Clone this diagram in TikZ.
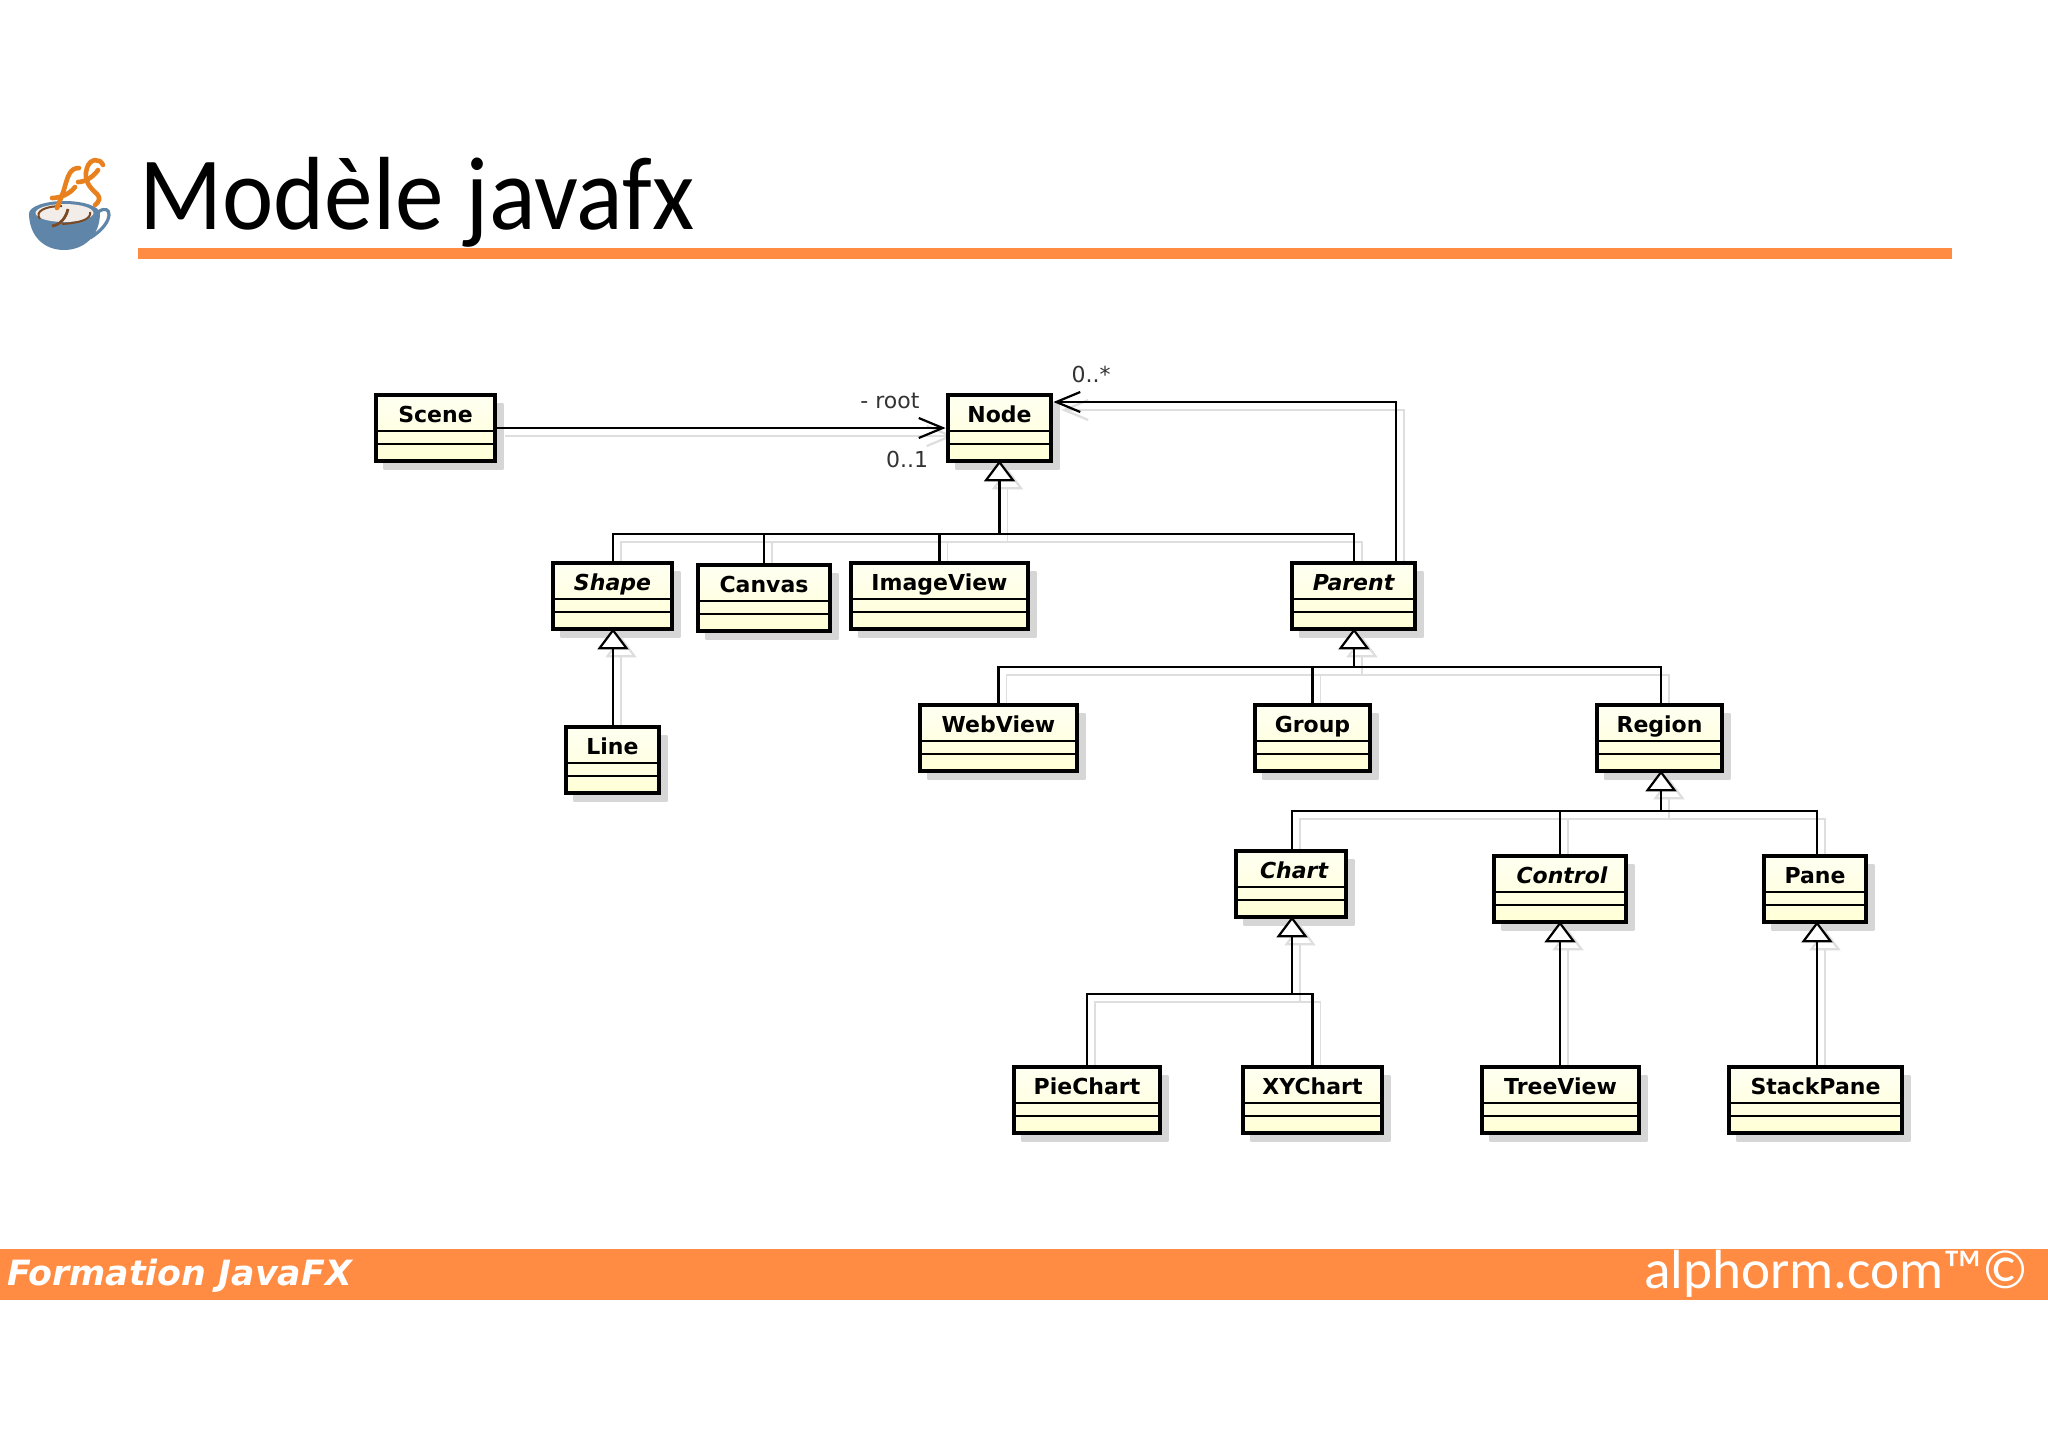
\documentclass[tikz,border=0pt]{standalone}
\usepackage{fontspec}
\setmainfont{DejaVu Sans}
\newfontfamily\titlefont[FakeStretch=0.935]{Carlito}
\newfontfamily\brandfont{Carlito}
\usetikzlibrary{arrows.meta,backgrounds,shadows}
\definecolor{classtop}{HTML}{FFFFF2}
\definecolor{classbottom}{HTML}{FFFFD6}
\definecolor{shadowgrey}{HTML}{D6D6D6}
\definecolor{ghostgrey}{HTML}{DEDEDE}
\definecolor{alphormorange}{HTML}{FF8C42}
\definecolor{cupblue}{HTML}{5F86A9}
\definecolor{flameorange}{HTML}{E8801E}
\definecolor{coffeebrown}{HTML}{7A4A24}
\tikzset{
    umlclass/.style={draw, line width=2pt, top color=classtop, bottom color=classbottom, anchor=north, inner sep=0pt,
        font=\fontsize{11}{12}\selectfont\bfseries, text height=13.6pt, text depth=19.6pt,
        drop shadow={shadow xshift=4pt, shadow yshift=-4pt, opacity=1, top color=shadowgrey, bottom color=shadowgrey},
        path picture={
            \draw[line width=0.9pt] ([yshift=-18pt]path picture bounding box.north west) -- ([yshift=-18pt]path picture bounding box.north east);
            \draw[line width=0.9pt] ([yshift=-24.5pt]path picture bounding box.north west) -- ([yshift=-24.5pt]path picture bounding box.north east);
        }},
    solidlink/.style={draw=black, line width=1.15pt},
    ghostlink/.style={draw=ghostgrey, line width=0.8pt, transform canvas={shift={(4pt,-4pt)}}},
    inherit/.style={-{Triangle[open, fill=white, length=10.5pt, width=15.5pt, line width=1.1pt]}, shorten >=-1.5pt},
    assoc/.style={-{Straight Barb[length=12pt, width=10pt, line width=1.1pt]}},
    rolelabel/.style={font=\fontsize{11}{12}\selectfont, inner sep=0pt, text=black!80},
    flame/.style={flameorange, line width=2.3pt, line cap=round}
}
\newcommand{\umllinks}[1]{
    \draw[#1, assoc] (scene.east |- assocy) -- (node.west |- assocy);
    \draw[#1, assoc] (parent.north -| backx) |- (node.east |- backy);
    \draw[#1] (shape.north -| shapex) |- (bus1) -| (parent.north -| parentx);
    \draw[#1] (canvas.north) -- (canvas.north |- bus1);
    \draw[#1] (imageview.north) -- (imageview.north |- bus1);
    \draw[#1, inherit] (bus1) -- (node.south);
    \draw[#1, inherit] (line.north -| shapex) -- (shape.south -| shapex);
    \draw[#1] (webview.north) |- (bus2) -| (region.north -| regionx);
    \draw[#1] (group.north) -- (group.north |- bus2);
    \draw[#1, inherit] (bus2) -- (parent.south -| parentx);
    \draw[#1] (chart.north -| chartx) |- (bus3) -| (pane.north -| panex);
    \draw[#1] (control.north) -- (control.north |- bus3);
    \draw[#1, inherit] (bus3) -- (region.south -| regionx);
    \draw[#1] (piechart.north) |- (bus4) -| (xychart.north);
    \draw[#1, inherit] (bus4) -- (chart.south -| chartx);
    \draw[#1, inherit] (treeview.north -| control.south) -- (control.south);
    \draw[#1, inherit] (stackpane.north -| panex) -- (pane.south -| panex);
}
\begin{document}
\begin{tikzpicture}[x=0.5pt,y=-0.5pt]
    \useasboundingbox (0,0) rectangle (2048,1447);
    % title and footer
    \fill[alphormorange] (138,248) rectangle (1952,259);
    \node[anchor=base west, inner sep=0pt, font=\titlefont\fontsize{52}{60}\selectfont] (title) at (139,229) {Modèle javafx};
    \fill[alphormorange] (0,1249) rectangle (2048,1300);
    \node[anchor=base west, inner sep=0pt, text=white, font=\fontsize{17.4}{18}\selectfont\bfseries\itshape] (formation) at (7,1285) {Formation JavaFX};
    \node[anchor=base east, inner sep=0pt, text=white, font=\brandfont\fontsize{27.6}{30}\selectfont] (brand) at (2029,1288) {alphorm.com™©};
    % logo
    \draw[cupblue, line width=1.6pt] (98,212) .. controls (112,202) and (116,222) .. (90,238);
    \fill[cupblue] (29,213) .. controls (29,236) and (44,250) .. (64,250) .. controls (84,250) and (100,236) .. (100,213) -- cycle;
    \fill[cupblue] (64.5,213.5) ellipse (35.5 and 12.5);
    \fill[white!90!coffeebrown] (64.5,213) ellipse (29 and 9);
    \draw[coffeebrown, line width=1pt] (40,219) .. controls (34,211) and (46,206) .. (62,206);
    \draw[coffeebrown, line width=1pt] (90,212) .. controls (92,219) and (80,223) .. (62,224);
    \draw[coffeebrown, line width=1.4pt] (68,209) .. controls (66,218) and (60,225) .. (52,226);
    \draw[flame] (79,168) .. controls (70,168) and (68,176) .. (65,186) .. controls (63,194) and (60,200) .. (57,208);
    \draw[flame] (52,198) .. controls (60,198) and (70,194) .. (75,187);
    \draw[flame] (103,165) .. controls (100,158) and (90,158) .. (87,168) .. controls (83,180) and (90,188) .. (97,194) .. controls (101,198) and (99,202) .. (95,205);
    \draw[flame] (78,182) .. controls (86,182) and (94,176) .. (98,170);
    % classes
    \foreach \name/\x/\y/\w/\txt in {
        scene/435.5/393/121/Scene, node/999.5/393/105/Node,
        shape/612.5/561/121/\itshape Shape, canvas/764/563/134/Canvas, imageview/939.5/561/179/ImageView, parent/1353.5/561/125/\itshape Parent,
        line/612.5/725/95/Line, webview/998.5/703/159/WebView, group/1312.5/703/117/Group, region/1659.5/703/127/Region,
        chart/1291/849/112/\itshape\hspace{3pt}Chart, control/1560/854/134/\itshape\hspace{2pt}Control, pane/1815/854/104/Pane,
        piechart/1087/1065/148/PieChart, xychart/1312.5/1065/141/XYChart, treeview/1560.5/1065/159/TreeView, stackpane/1815.5/1065/175/StackPane}
    {
        \node[umlclass, minimum width=\w*0.5pt-0.6pt] (\name) at (\x,\y) {\txt};
    }
    % connector rails
    \coordinate (assocy) at (0,428);
    \coordinate (backy) at (0,402);
    \coordinate (backx) at (1396,0);
    \coordinate (shapex) at (613,0);
    \coordinate (parentx) at (1354,0);
    \coordinate (regionx) at (1661,0);
    \coordinate (chartx) at (1292,0);
    \coordinate (panex) at (1817,0);
    \coordinate (bus1) at (999.5,534);
    \coordinate (bus2) at (1354,667);
    \coordinate (bus3) at (1661,811);
    \coordinate (bus4) at (1292,994);
    \begin{scope}[on background layer]
        \fill[white] (0,0) rectangle (2048,1447);
        \umllinks{ghostlink}
    \end{scope}
    \umllinks{solidlink}
    % role names
    \node[rolelabel] (rootlabel) at (890,401) {- root};
    \node[rolelabel] (onelabel) at (907,459) {0..1};
    \node[rolelabel] (manylabel) at (1091,374) {0..*};
\end{tikzpicture}
\end{document}
